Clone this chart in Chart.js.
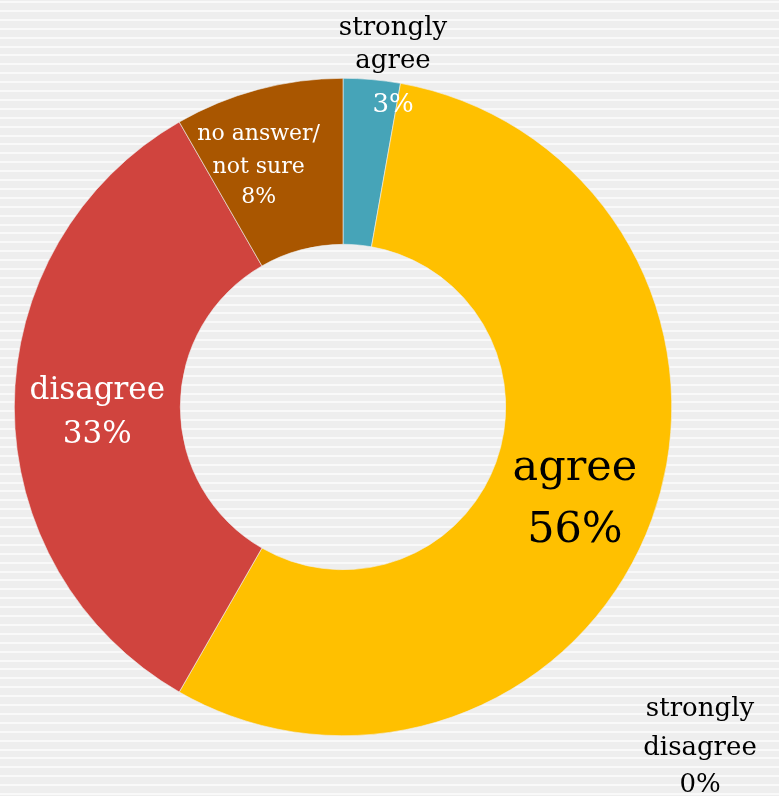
<!DOCTYPE html>
<html>
<head>
<meta charset="utf-8">
<script src="https://cdn.jsdelivr.net/npm/chart.js@4"></script>
<style>
  html, body { margin: 0; padding: 0; background: #eeeeee; }
  #wrap { width: 779px; height: 796px; position: relative; }
</style>
</head>
<body>
<div id="wrap"><canvas id="c" width="779" height="796"></canvas></div>
<script>
// ---- data ----
const categories = ['strongly agree', 'agree', 'strongly disagree', 'disagree', 'no answer/not sure'];
const values = [2.8, 55.5, 0, 33.4, 8.3];
const percentLabels = ['3%', '56%', '0%', '33%', '8%'];
const nameLines = [['strongly', 'agree'], ['agree'], ['strongly', 'disagree'], ['disagree'], ['no answer/', 'not sure']];
const colors = ['#46A4B8', '#FFC000', '#7F7F7F', '#D0443E', '#A95600'];

// ---- label styling / placement (not data) ----
const FONT = '"DejaVu Serif", "Liberation Serif", serif';
const labelStyle = [
  { mode: 'center', dx: 50, size: 26, nameColor: '#000', pctColor: '#fff', ys: [-372, -339, -295] },
  { mode: 'centroid', dx: 1, size: 43, nameColor: '#000', pctColor: '#000', ys: [-11, 51] },
  { mode: 'center', dx: 357, size: 26, nameColor: '#000', pctColor: '#000', ys: [309, 348, 385] },
  { mode: 'centroid', dx: 0, size: 31, nameColor: '#fff', pctColor: '#fff', ys: [-8, 36] },
  { mode: 'centroid', dx: -21, size: 22, nameColor: '#fff', pctColor: '#fff', ys: [-30, 3, 33] }
];

const stripes = {
  id: 'stripes',
  beforeDraw(chart) {
    const ctx = chart.ctx;
    ctx.save();
    ctx.fillStyle = '#eeeeee';
    ctx.fillRect(0, 0, chart.width, chart.height);
    ctx.fillStyle = '#f9f9f9';
    for (let y = 1; y < chart.height; y += 8.9) {
      ctx.fillRect(0, Math.round(y), chart.width, 2);
    }
    ctx.restore();
  }
};

const sliceLabels = {
  id: 'sliceLabels',
  afterDatasetsDraw(chart) {
    const ctx = chart.ctx;
    const meta = chart.getDatasetMeta(0);
    ctx.save();
    ctx.textAlign = 'center';
    ctx.textBaseline = 'alphabetic';
    meta.data.forEach((arc, i) => {
      const st = labelStyle[i];
      let ax, ay;
      if (st.mode === 'centroid') {
        const p = arc.tooltipPosition();
        ax = p.x; ay = p.y;
      } else {
        ax = arc.x; ay = arc.y;
      }
      ax += st.dx;
      const lines = nameLines[i].map(t => ({ t, c: st.nameColor }));
      lines.push({ t: percentLabels[i], c: st.pctColor });
      ctx.font = st.size + 'px ' + FONT;
      lines.forEach((ln, k) => {
        ctx.fillStyle = ln.c;
        ctx.fillText(ln.t, ax, ay + st.ys[k]);
      });
    });
    ctx.restore();
  }
};

new Chart(document.getElementById('c'), {
  type: 'doughnut',
  data: {
    labels: categories,
    datasets: [{
      data: values,
      backgroundColor: colors,
      borderWidth: 0.6,
      borderColor: '#f0f0f0'
    }]
  },
  options: {
    responsive: false,
    animation: false,
    cutout: '49.5%',
    layout: { padding: { left: 14, right: 107, top: 78, bottom: 60 } },
    plugins: {
      legend: { display: false },
      tooltip: { enabled: false }
    }
  },
  plugins: [stripes, sliceLabels]
});
</script>
</body>
</html>
